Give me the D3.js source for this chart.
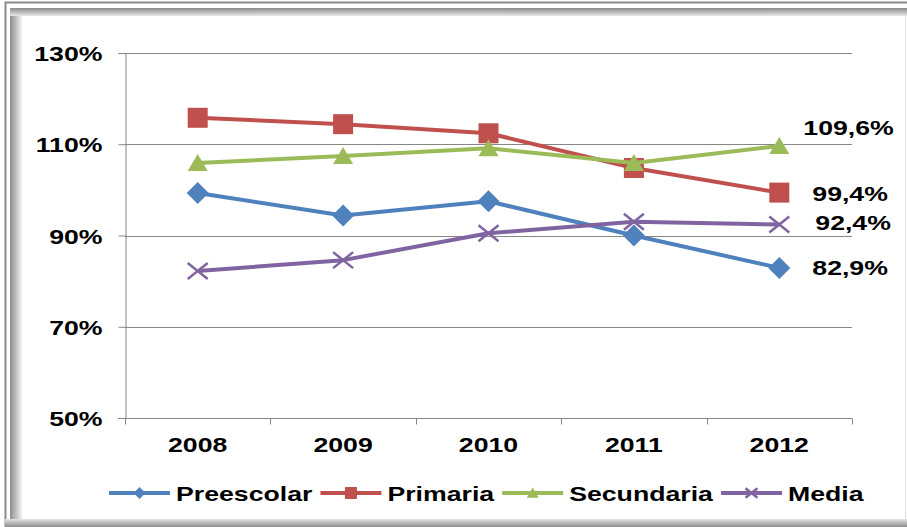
<!DOCTYPE html>
<html>
<head>
<meta charset="utf-8">
<script src="https://cdn.jsdelivr.net/npm/d3@7"></script>
<style>
  html, body { margin: 0; padding: 0; background: #fff; }
  svg text { font-family: "Liberation Sans", Arial, sans-serif; font-weight: bold; fill: #000; }
</style>
</head>
<body>
<svg id="chart" width="907" height="527"></svg>
<script>
// chart data
const years = ['2008', '2009', '2010', '2011', '2012']
const preescolar = [99.3, 94.4, 97.5, 90.0, 82.9]
const primaria = [115.8, 114.4, 112.4, 104.8, 99.4]
const secundaria = [105.9, 107.4, 109.1, 105.9, 109.6]
const media = [82.2, 84.6, 90.5, 93.0, 92.4]
const yTicks = [50, 70, 90, 110, 130]
const seriesNames = ['Preescolar', 'Primaria', 'Secundaria', 'Media']
const endLabels = ['82,9%', '99,4%', '109,6%', '92,4%']

const seriesValues = [preescolar, primaria, secundaria, media]
const colors = ['#4F81BD', '#C0504D', '#9BBB59', '#8064A2']
const shapes = ['diamond', 'square', 'triangle', 'cross']
// where the last-point label sits, relative to the point
const labelOffset = [[33, 0], [33, 1], [24, -19], [36, -2]]

const STRETCH = 1.27
const svg = d3.select('#chart')

// stretch text horizontally, the reference picture is a little wide
function stretch (sel) {
  sel.each(function () {
    let w = this.getComputedTextLength() * STRETCH
    this.setAttribute('textLength', w)
    this.setAttribute('lengthAdjust', 'spacingAndGlyphs')
    this.__width = w
  })
}

// frame
let defs = svg.append('defs')
let gl = defs.append('linearGradient').attr('id', 'gLeft')
gl.append('stop').attr('offset', 0).attr('stop-color', '#8e8e8e')
gl.append('stop').attr('offset', 1).attr('stop-color', '#f2f2f2')
let gt = defs.append('linearGradient').attr('id', 'gTop')
  .attr('x1', 0).attr('y1', 0).attr('x2', 0).attr('y2', 1)
gt.append('stop').attr('offset', 0).attr('stop-color', '#8a8a8a')
gt.append('stop').attr('offset', 1).attr('stop-color', '#e8e8e8')
let gb = defs.append('linearGradient').attr('id', 'gBottom')
  .attr('x1', 0).attr('y1', 0).attr('x2', 0).attr('y2', 1)
gb.append('stop').attr('offset', 0).attr('stop-color', '#e4e4e4')
gb.append('stop').attr('offset', 1).attr('stop-color', '#8c8c8c')

svg.append('rect').attr('x', 5.5).attr('y', 2.5).attr('width', 920).attr('height', 540)
  .attr('fill', '#fff').attr('stroke', '#8a8a8a').attr('stroke-width', 2)
svg.append('rect').attr('x', 10).attr('y', 8).attr('width', 12).attr('height', 512)
  .attr('fill', 'url(#gLeft)')
svg.append('rect').attr('x', 10).attr('y', 8).attr('width', 897).attr('height', 8)
  .attr('fill', 'url(#gTop)')
svg.append('rect').attr('x', 5).attr('y', 519).attr('width', 902).attr('height', 8)
  .attr('fill', 'url(#gBottom)')
svg.append('line').attr('x1', 905.5).attr('x2', 905.5).attr('y1', 16).attr('y2', 519)
  .attr('stroke', '#e0e0e0')

// scales
let x = d3.scaleBand().domain(years).range([125, 852])
let y = d3.scaleLinear().domain([50, 130]).range([418, 53])
let cx = d => x(d) + x.bandwidth() / 2

// gridlines
svg.append('g').selectAll('line').data(yTicks).enter().append('line')
  .attr('x1', 125).attr('x2', 852)
  .attr('y1', d => Math.round(y(d)) + 0.5).attr('y2', d => Math.round(y(d)) + 0.5)
  .attr('stroke', '#868686')

// y axis
let yAxis = svg.append('g').attr('transform', 'translate(125.5,0)')
  .call(d3.axisLeft(y).tickValues(yTicks).tickSize(7).tickPadding(16)
    .tickFormat(d => d + '%'))
yAxis.select('.domain').attr('stroke', '#868686')
yAxis.selectAll('.tick line').attr('stroke', '#868686')
yAxis.selectAll('.tick text').attr('font-size', 21).attr('font-family', null)
  .attr('fill', '#000').attr('dy', '0.36em').call(stretch)

// x axis: ticks on the band edges, labels in the centre
let xAxis = svg.append('g').attr('transform', 'translate(0,418.5)')
xAxis.append('line').attr('x1', 118).attr('x2', 852).attr('stroke', '#868686')
xAxis.selectAll('.edge').data(years.concat(['end'])).enter().append('line')
  .attr('x1', (d, i) => Math.round(125 + i * x.bandwidth()) + 0.5)
  .attr('x2', (d, i) => Math.round(125 + i * x.bandwidth()) + 0.5)
  .attr('y1', 0).attr('y2', 6).attr('stroke', '#868686')
xAxis.selectAll('text').data(years).enter().append('text')
  .attr('x', cx).attr('y', 33).attr('text-anchor', 'middle')
  .attr('font-size', 21).text(d => d).call(stretch)

// markers
function marker (g, shape, color, s) {
  if (shape === 'diamond') {
    g.append('path').attr('d', `M0,${-s}L${s},0L0,${s}L${-s},0Z`).attr('fill', color)
  } else if (shape === 'square') {
    g.append('rect').attr('x', -s).attr('y', -s).attr('width', 2 * s).attr('height', 2 * s)
      .attr('fill', color)
  } else if (shape === 'triangle') {
    g.append('path').attr('d', `M0,${-s * 0.9}L${s},${s * 0.8}L${-s},${s * 0.8}Z`)
      .attr('fill', color)
  } else {
    g.append('path').attr('d', `M${-s},${-s * 0.8}L${s},${s * 0.8}M${-s},${s * 0.8}L${s},${-s * 0.8}`)
      .attr('stroke', color).attr('stroke-width', 2.5).attr('fill', 'none')
  }
}

let line = d3.line().x((d, i) => cx(years[i])).y(d => y(d))

seriesValues.forEach(function (vals, k) {
  let g = svg.append('g')
  g.append('path').datum(vals).attr('d', line)
    .attr('fill', 'none').attr('stroke', colors[k]).attr('stroke-width', 4)
    .attr('stroke-linejoin', 'round')
  vals.forEach(function (v, i) {
    let m = g.append('g').attr('transform', `translate(${cx(years[i])},${y(v)})`)
    marker(m, shapes[k], colors[k], shapes[k] === 'diamond' ? 11 : 10)
  })
  let last = vals.length - 1
  g.append('text')
    .attr('x', cx(years[last]) + labelOffset[k][0])
    .attr('y', y(vals[last]) + labelOffset[k][1])
    .attr('dy', '0.36em').attr('font-size', 21)
    .text(endLabels[k]).call(stretch)
})

// legend
let lx = 109
let legend = svg.append('g').attr('transform', 'translate(0,493)')
seriesNames.forEach(function (name, k) {
  legend.append('line').attr('x1', lx).attr('x2', lx + 61)
    .attr('stroke', colors[k]).attr('stroke-width', 4)
  let m = legend.append('g').attr('transform', `translate(${lx + 30.5},0)`)
  marker(m, shapes[k], colors[k], 6)
  let t = legend.append('text').attr('x', lx + 67).attr('dy', '0.36em')
    .attr('font-size', 21).text(name).call(stretch)
  lx = lx + 67 + t.node().__width + 8
})
</script>
</body>
</html>
